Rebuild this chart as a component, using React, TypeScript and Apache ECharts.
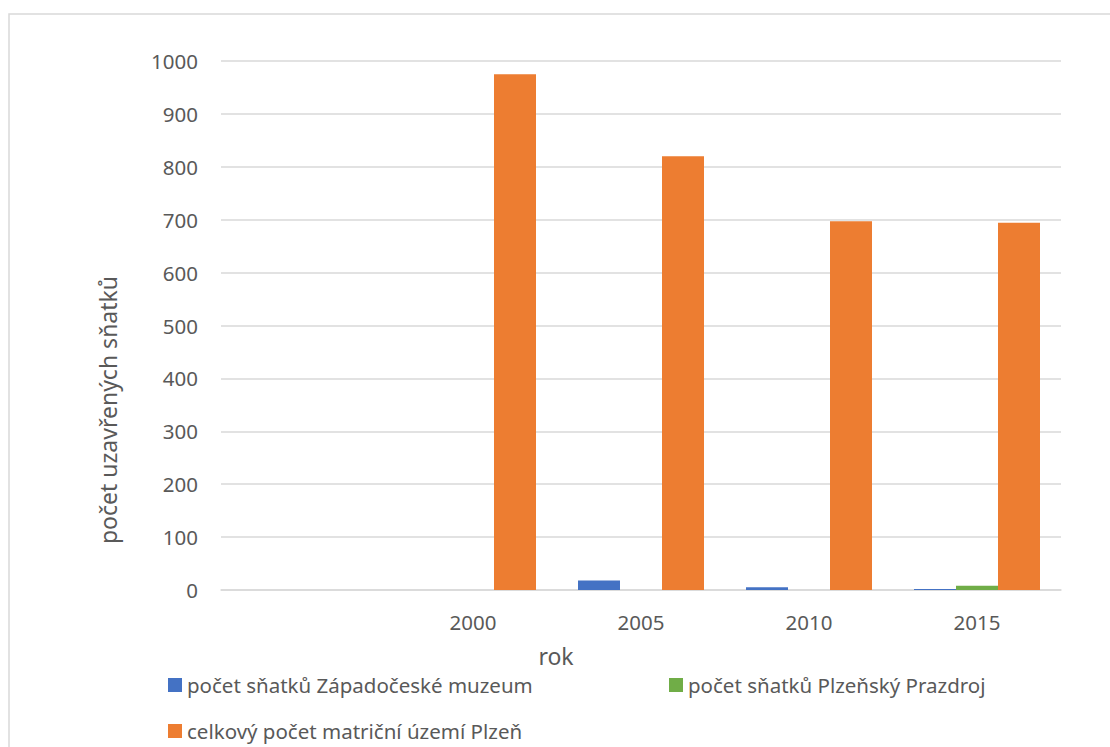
import React, { useEffect, useRef } from "react";
import * as echarts from "echarts";

const categories = ["", "2000", "2005", "2010", "2015"];
const muzeum = [null, null, 18, 5, 2];
const prazdroj = [null, null, null, null, 8];
const celkem = [null, 975, 820, 697, 694];
const yTicks = { min: 0, max: 1000, interval: 100 };

const seriesNames = [
  "počet sňatků Západočeské muzeum",
  "počet sňatků Plzeňský Prazdroj",
  "celkový počet matriční území Plzeň",
];
const colors = ["#4472c4", "#70ad47", "#ed7d31"];

const FONT = "'Noto Sans', sans-serif";
const TEXT = "#595959";

export default function App() {
  const ref = useRef<HTMLDivElement>(null);

  useEffect(() => {
    document.body.style.margin = "0";
    const chart = echarts.init(ref.current!, null, { renderer: "svg" });
    const legendText = { fontSize: 20.5, color: TEXT, fontFamily: FONT, lineHeight: 22 };
    const legendBase = {
      orient: "horizontal",
      itemWidth: 14,
      itemHeight: 14,
      padding: 0,
      icon: "rect",
      textStyle: legendText,
      selectedMode: false,
    };
    chart.setOption({
      animation: false,
      backgroundColor: "#ffffff",
      textStyle: { fontFamily: FONT },
      grid: { left: 221, right: 49, top: 61, bottom: 157, containLabel: false },
      xAxis: {
        type: "category",
        data: categories,
        axisLine: { show: true, lineStyle: { color: "#d9d9d9", width: 1.5 } },
        axisTick: { show: false },
        axisLabel: { color: TEXT, fontSize: 20.5, fontFamily: FONT, margin: 22, lineHeight: 20 },
      },
      yAxis: {
        type: "value",
        min: yTicks.min,
        max: yTicks.max,
        interval: yTicks.interval,
        axisLine: { show: false },
        axisTick: { show: false },
        axisLabel: {
          color: TEXT,
          fontSize: 20.5,
          fontFamily: FONT,
          margin: 23,
          formatter: (v: number) => String(v),
        },
        splitLine: { lineStyle: { color: "#d9d9d9", width: 1.5 } },
      },
      legend: [
        { ...legendBase, data: [seriesNames[0]], left: 168, top: 674 },
        { ...legendBase, data: [seriesNames[1]], left: 669, top: 674 },
        { ...legendBase, data: [seriesNames[2]], left: 168, top: 720 },
      ],
      series: [
        { name: seriesNames[0], type: "bar", data: muzeum, barWidth: 42, barGap: "0%", itemStyle: { color: colors[0] } },
        { name: seriesNames[1], type: "bar", data: prazdroj, barWidth: 42, barGap: "0%", itemStyle: { color: colors[1] } },
        { name: seriesNames[2], type: "bar", data: celkem, barWidth: 42, barGap: "0%", itemStyle: { color: colors[2] } },
      ],
      graphic: [
        {
          type: "rect",
          silent: true,
          shape: { x: 9, y: 14, width: 1300, height: 900 },
          style: { fill: "none", stroke: "#d9d9d9", lineWidth: 1.5 },
          z: -1,
        },
        {
          type: "text",
          x: 108,
          y: 410,
          rotation: Math.PI / 2,
          style: {
            text: "počet uzavřených sňatků",
            fontSize: 23,
            fontFamily: FONT,
            fill: TEXT,
            align: "center",
            verticalAlign: "middle",
          },
        },
        {
          type: "text",
          x: 556,
          y: 656,
          style: {
            text: "rok",
            fontSize: 23,
            fontFamily: FONT,
            fill: TEXT,
            align: "center",
            verticalAlign: "middle",
          },
        },
      ],
    });
    return () => chart.dispose();
  }, []);

  return <div ref={ref} style={{ width: 1110, height: 747 }} />;
}
